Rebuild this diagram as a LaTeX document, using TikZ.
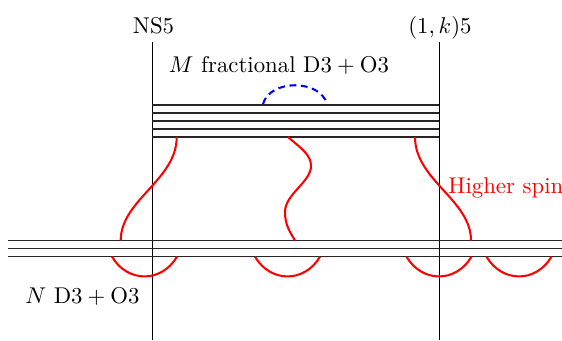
\documentclass[tikz,border=0pt]{standalone}
\begin{document}
\begin{tikzpicture}[x=0.4386pt,y=-0.4386pt,
  fivebrane/.style={black,line width=0.42pt},
  dthree/.style={black!85,line width=0.55pt},
  hsstring/.style={red,line width=0.9pt},
  fracstring/.style={blue,line width=0.9pt,densely dashed},
  lbl/.style={inner sep=0pt,anchor=base}]
\useasboundingbox (0,0) rectangle (562,340);
% NS5 and (1,k)5 branes
\coordinate (nsT) at (152,42);
\coordinate (nsB) at (152,340);
\coordinate (pkT) at (439,42);
\coordinate (pkB) at (439,340);
\draw[fivebrane] (nsT) -- (nsB);
\draw[fivebrane] (pkT) -- (pkB);
% upper fractional D3 stack
\foreach \yy in {105,113,121,129,137}
  \draw[dthree] (152,\yy) -- (439,\yy);
% lower D3 stack
\foreach \yy in {240.5,248.5,256.7}
  \draw[dthree] (8,\yy) -- (562,\yy);
% labels
\node[lbl] (ns) at (153.5,33) {NS5};
\node[lbl] (pk) at (440,33) {$(1,k)5$};
\node[lbl] (frac) at (279,72) {$M$ fractional $\mathrm{D3}+\mathrm{O3}$};
\node[lbl] (nd) at (82.5,303) {$N\ \mathrm{D3}+\mathrm{O3}$};
\node[lbl,anchor=base west,text=red] (hs) at (448,193) {Higher spin};
% blue dashed arc on fractional stack
\draw[fracstring] (263,104) .. controls (270,79) and (320,79) .. (327,104);
% red strings between stacks
\draw[hsstring] (176.7,137) .. controls (176.7,180) and (120.7,200) .. (120.7,240.5);
\draw[hsstring] (415,137) .. controls (415,180) and (471,200) .. (471,240.5);
\draw[hsstring] (288,137) .. controls (302,149) and (311,155) .. (311,166)
  .. controls (311,182) and (285,194) .. (285,212)
  .. controls (285,225) and (290,232) .. (295,240.5);
% red arcs below lower stack
\foreach \cx in {144.5,287.5,439,519}
  \draw[hsstring] (\cx-32.5,256.7) .. controls (\cx-17,283) and (\cx+17,283) .. (\cx+32.5,256.7);
\end{tikzpicture}
\end{document}
